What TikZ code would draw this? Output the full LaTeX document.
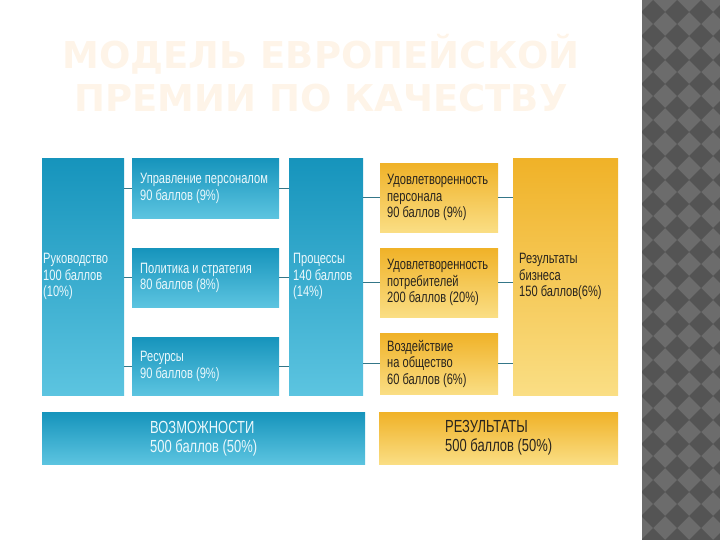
\documentclass[tikz,border=0pt]{standalone}
\usepackage{fontspec}
\newfontfamily\boxfont{Liberation Sans}[FakeStretch=0.74, WordSpace=1.0]
\newfontfamily\titlefont{DejaVu Sans}
\usepackage{xcolor}
\definecolor{bluetop}{RGB}{22,148,188}
\definecolor{bluebot}{RGB}{92,196,224}
\definecolor{yeltop}{RGB}{240,178,40}
\definecolor{yelbot}{RGB}{250,222,132}
\definecolor{linkteal}{RGB}{52,118,136}
\definecolor{titlepeach}{RGB}{254,244,232}
\definecolor{stripdark}{RGB}{84,84,84}
\definecolor{striplight}{RGB}{108,108,108}
\usetikzlibrary{positioning}

\begin{document}
\begin{tikzpicture}[x=1pt, y=-1pt,
  bluebox/.style={anchor=north west, align=flush left, top color=bluetop, bottom color=bluebot,
                  text={rgb,255:red,235;green,248;blue,252},
                  font=\boxfont\fontsize{15}{16.5}\selectfont, inner xsep=8pt, inner ysep=0pt},
  yelbox/.style={anchor=north west, align=flush left, top color=yeltop, bottom color=yelbot,
                 text={rgb,255:red,40;green,36;blue,30},
                 font=\boxfont\fontsize{15}{16.5}\selectfont, inner xsep=8pt, inner ysep=0pt},
  bigtext/.style={font=\boxfont\fontsize{17.5}{19}\selectfont},
  link/.style={draw=linkteal, line width=1.1pt}]
\useasboundingbox (0,0) rectangle (720,540);

% checkered strip on the right
\fill[striplight] (642,0) rectangle (720,540);
\begin{scope}
  \clip (642,0) rectangle (720,540);
  \foreach \i in {0,...,3}
    \foreach \j in {0,...,23}
      \fill[stripdark] (653+24*\i,12+24*\j) +(0,-12) -- +(12,0) -- +(0,12) -- +(-12,0) -- cycle;
\end{scope}

% title
\node[font=\titlefont\bfseries\fontsize{37}{43}\selectfont, text=titlepeach, align=center]
  (title) at (321,73) {МОДЕЛЬ ЕВРОПЕЙСКОЙ\\ПРЕМИИ ПО КАЧЕСТВУ};

% enablers
\node[bluebox, minimum height=237pt, text width=80pt, inner xsep=1pt] (ruk) at (42,158)
  {Руководство\\100 баллов\\(10\%)};
\node[bluebox, minimum height=60pt, text width=131pt] (upr) at (132,158)
  {Управление персоналом\\90 баллов (9\%)};
\node[bluebox, minimum height=59pt, text width=131pt] (pol) at (132,248)
  {Политика и стратегия\\80 баллов (8\%)};
\node[bluebox, minimum height=58pt, text width=131pt] (res) at (132,337)
  {Ресурсы\\90 баллов (9\%)};
\node[bluebox, minimum height=237pt, text width=66pt, inner xsep=4pt] (proc) at (289,158)
  {Процессы\\140 баллов\\(14\%)};

% results
\node[yelbox, minimum height=69pt, text width=104pt, inner xsep=7pt] (sper) at (380,163)
  {Удовлетворенность\\персонала\\90 баллов (9\%)};
\node[yelbox, minimum height=69pt, text width=104pt, inner xsep=7pt] (spot) at (380,248)
  {Удовлетворенность\\потребителей\\200 баллов (20\%)};
\node[yelbox, minimum height=61pt, text width=104pt, inner xsep=7pt] (soc) at (380,333)
  {Воздействие\\на общество\\60 баллов (6\%)};
\node[yelbox, minimum height=237pt, text width=93pt, inner xsep=6pt] (biz) at (513,158)
  {Результаты\\бизнеса\\150 баллов(6\%)};

% totals
\node[bluebox, bigtext, minimum height=52pt, minimum width=323pt] (vozm) at (42,412)
  {ВОЗМОЖНОСТИ\\500 баллов (50\%)};
\node[yelbox, bigtext, minimum height=52pt, minimum width=239pt] (rez) at (379,412)
  {РЕЗУЛЬТАТЫ\\500 баллов (50\%)};

% connectors
\draw[link] (ruk.east |- upr.west) -- (upr.west);
\draw[link] (ruk.east |- pol.west) -- (pol.west);
\draw[link] (ruk.east |- res.west) -- (res.west);
\draw[link] (upr.east) -- (upr.east -| proc.west);
\draw[link] (pol.east) -- (pol.east -| proc.west);
\draw[link] (res.east) -- (res.east -| proc.west);
\draw[link] (proc.east |- sper.west) -- (sper.west);
\draw[link] (proc.east |- spot.west) -- (spot.west);
\draw[link] (proc.east |- soc.west) -- (soc.west);
\draw[link] (sper.east) -- (sper.east -| biz.west);
\draw[link] (spot.east) -- (spot.east -| biz.west);
\draw[link] (soc.east) -- (soc.east -| biz.west);
\end{tikzpicture}
\end{document}
